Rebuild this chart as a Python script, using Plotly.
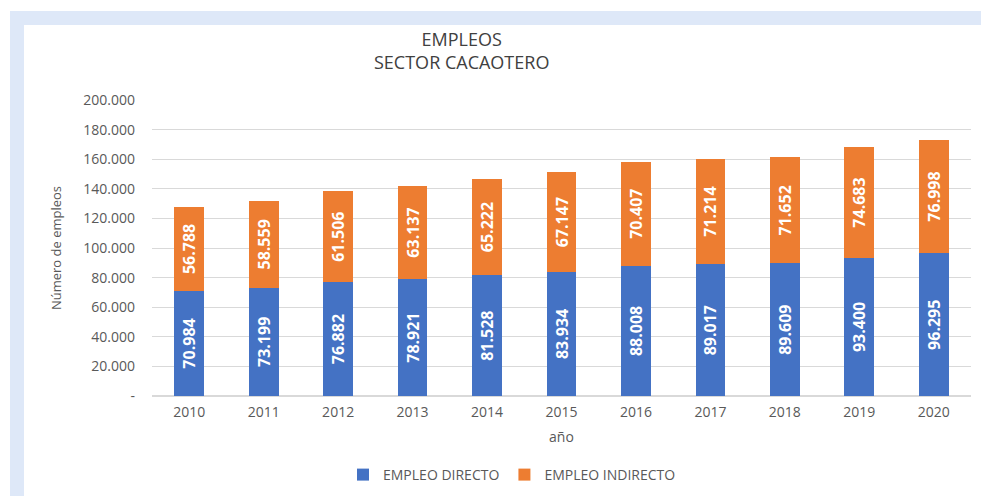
import plotly.graph_objects as go

# Datos
anios = ['2010', '2011', '2012', '2013', '2014', '2015', '2016', '2017', '2018', '2019', '2020']
empleo_directo = [70984, 73199, 76882, 78921, 81528, 83934, 88008, 89017, 89609, 93400, 96295]
empleo_indirecto = [56788, 58559, 61506, 63137, 65222, 67147, 70407, 71214, 71652, 74683, 76998]
y_ticks = [0, 20000, 40000, 60000, 80000, 100000, 120000, 140000, 160000, 180000, 200000]
y_ticktext = ['-', '20.000', '40.000', '60.000', '80.000', '100.000', '120.000',
              '140.000', '160.000', '180.000', '200.000']

# el body de la página deja 8px de margen
OFF = 8
W, H = 989 - OFF, 496 - OFF
ML, MR, MT, MB = 152 - OFF, 18, 100 - OFF, 100
pw, ph = W - ML - MR, H - MT - MB


def px_x(p):
    return (p - OFF - ML) / pw


def px_y(p):
    return (H - MB - (p - OFF)) / ph


bar_text = dict(color='white', size=16, family='Open Sans', weight='bold')

fig = go.Figure()
fig.add_trace(go.Bar(x=anios, y=empleo_directo, name='EMPLEO DIRECTO',
                     marker=dict(color='#4472C4', line=dict(width=0)),
                     texttemplate='%{y:,d}', textposition='inside', textangle=-90,
                     insidetextanchor='middle', textfont=bar_text))
fig.add_trace(go.Bar(x=anios, y=empleo_indirecto, name='EMPLEO INDIRECTO',
                     marker=dict(color='#ED7D31', line=dict(width=0)),
                     texttemplate='%{y:,d}', textposition='inside', textangle=-90,
                     insidetextanchor='middle', textfont=bar_text))

# marco azul claro
band = '#DEE8F8'
fig.add_shape(type='rect', xref='paper', yref='paper', layer='below',
              x0=px_x(10), x1=px_x(1000), y0=px_y(25), y1=px_y(11),
              fillcolor=band, line_width=0)
fig.add_shape(type='rect', xref='paper', yref='paper', layer='below',
              x0=px_x(10), x1=px_x(24), y0=px_y(510), y1=px_y(11),
              fillcolor=band, line_width=0)

# título en dos líneas
fig.add_annotation(text='EMPLEOS<br>SECTOR CACAOTERO', xref='paper', yref='paper',
                   showarrow=False, x=px_x(461), y=px_y(51), xanchor='center',
                   yanchor='middle', align='center',
                   font=dict(size=18, color='#404040', family='Open Sans'))

fig.update_layout(
    barmode='stack',
    bargap=0.6,
    separators=',.',
    width=W, height=H,
    margin=dict(l=ML, r=MR, t=MT, b=MB, autoexpand=False),
    paper_bgcolor='white',
    plot_bgcolor='white',
    font=dict(family='Open Sans', color='#595959', size=13),
    xaxis=dict(title=dict(text='año', font=dict(size=14), standoff=12),
               showgrid=False, showline=False, ticks='', automargin=False,
               tickfont=dict(size=14), ticklabelstandoff=6),
    yaxis=dict(range=[0, 200000], tickvals=y_ticks, ticktext=y_ticktext,
               showgrid=True, gridcolor='#D9D9D9', gridwidth=1,
               zeroline=True, zerolinecolor='#D9D9D9', automargin=False,
               title=dict(text='Número de empleos', font=dict(size=13), standoff=18),
               tickfont=dict(size=14), ticks='', ticklabelstandoff=16),
    legend=dict(orientation='h', xref='container', yref='container',
                x=(512 - OFF) / W, xanchor='center', y=(H - (475 - OFF)) / H, yanchor='middle',
                font=dict(size=14), itemwidth=30, traceorder='normal'),
)

fig.write_html('out.html')
